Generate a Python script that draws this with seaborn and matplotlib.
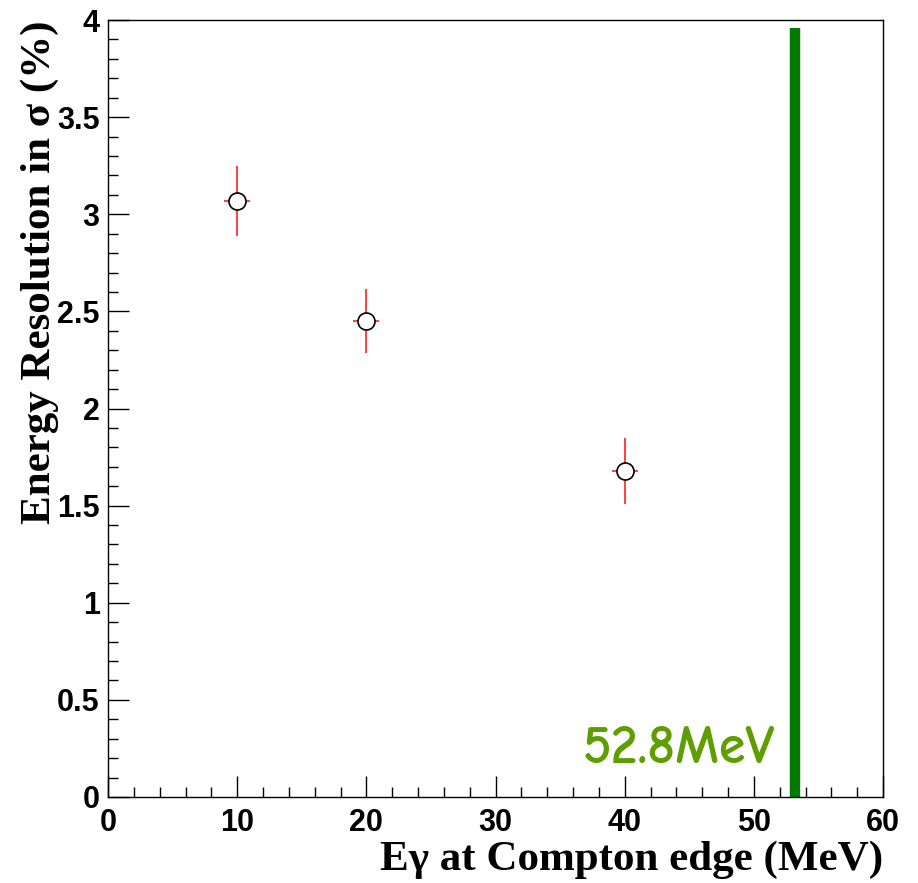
import matplotlib
matplotlib.use("Agg")
import matplotlib.pyplot as plt
import seaborn as sns
import pandas as pd
from matplotlib.ticker import MultipleLocator

energy = [10, 20, 40]
resolution = [3.07, 2.45, 1.68]
res_err = [0.18, 0.165, 0.17]
energy_err = [1.0, 1.0, 1.0]
edge_x = 53.2
edge_top = 3.96
edge_label = "52.8MeV"

df = pd.DataFrame({"E": energy, "R": resolution})

sns.set_theme(style="white")
plt.rcParams["font.family"] = ["DejaVu Sans"]

W, H = 918, 883
fig = plt.figure(figsize=(W / 100, H / 100), dpi=100)
ax = fig.add_axes([108/W, 1-797/H, (883-108)/W, (797-20)/H])

ax.errorbar(energy, resolution, yerr=res_err, xerr=energy_err, fmt="none",
            ecolor="#ff3030", elinewidth=1.3, capsize=0, zorder=2)
sns.scatterplot(data=df, x="E", y="R", ax=ax, marker="o", s=150,
                facecolor="white", edgecolor="black", linewidth=1.2, zorder=3)

ax.plot([edge_x, edge_x], [0, edge_top], color="#007a00", linewidth=7.5,
        solid_capstyle="butt", zorder=1)
ax.text(edge_x - 1.6, 0.175, edge_label, color="#5f9e00", fontsize=39,
        fontweight="bold", ha="right", va="baseline",
        family=["Comic Neue", "DejaVu Sans"])

ax.set_xlim(0, 60)
ax.set_ylim(0, 4)
ax.xaxis.set_major_locator(MultipleLocator(10))
ax.xaxis.set_minor_locator(MultipleLocator(2))
ax.yaxis.set_major_locator(MultipleLocator(0.5))
ax.yaxis.set_minor_locator(MultipleLocator(0.1))
ax.tick_params(which="both", direction="in", top=False, right=False,
               bottom=True, left=True, color="black", width=1)
ax.tick_params(which="major", length=15)
ax.tick_params(which="minor", length=7.5)
ax.tick_params(axis="y", which="major", pad=6)
ax.tick_params(axis="x", which="major", pad=8)

ax.set_yticks([0, 0.5, 1, 1.5, 2, 2.5, 3, 3.5, 4])
ax.set_yticklabels(["0", "0.5", "1", "1.5", "2", "2.5", "3", "3.5", "4"])
ax.set_xticks([0, 10, 20, 30, 40, 50, 60])
ax.set_xticklabels(["0", "10", "20", "30", "40", "50", "60"])
for lab in ax.get_xticklabels() + ax.get_yticklabels():
    lab.set_family(["Liberation Sans", "DejaVu Sans"])
    lab.set_fontweight("bold")
    lab.set_fontsize(22)
    lab.set_color("black")

for sp in ax.spines.values():
    sp.set_color("black")
    sp.set_linewidth(1)

ax.set_xlabel("")
ax.set_ylabel("")
fig.text(883/W, 1 - 870/H, "Eγ at Compton edge (MeV)", fontsize=31,
         fontweight="bold", family=["Liberation Serif", "DejaVu Serif"],
         ha="right", va="baseline", color="black")
fig.text(50/W, 1 - 20/H, "Energy Resolution in σ (%)", fontsize=31,
         fontweight="bold", family=["Liberation Serif", "DejaVu Serif"],
         ha="right", va="baseline", rotation=90, rotation_mode="anchor",
         color="black")

fig.savefig("out.png", dpi=100)
